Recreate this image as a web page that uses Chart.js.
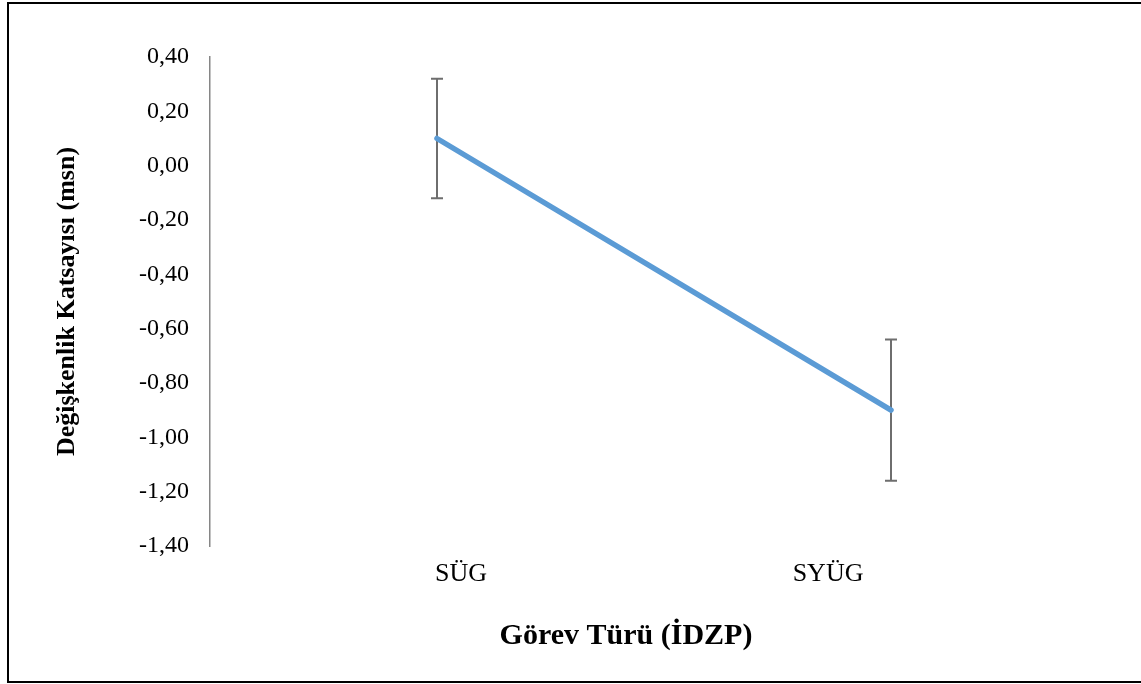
<!DOCTYPE html>
<html>
<head>
<meta charset="utf-8">
<script src="https://cdn.jsdelivr.net/npm/chart.js@4"></script>
<style>
    body { margin: 0; background: #fff; overflow: hidden; }
    #wrap { position: absolute; left: 0; top: 0; width: 1141px; height: 684px; }
    #frame { position: absolute; left: 7px; top: 2px; width: 1160px; height: 677px; border: 2px solid #000; pointer-events: none; }
</style>
</head>
<body>
<div id="wrap">
    <canvas id="kvChart" width="1141" height="684"></canvas>
</div>
<div id="frame"></div>
<script>
const categories = ['SÜG', 'SYÜG'];
const means = [0.10, -0.90];
const errors = [0.22, 0.26];
const yMin = -1.4;
const yMax = 0.4;
const yStep = 0.2;
const xTitle = 'Görev Türü (İDZP)';
const yTitle = 'Değişkenlik Katsayısı (msn)';

const serif = '"Liberation Serif", "Times New Roman", serif';

// error bars drawn behind the line
const errorBars = {
    id: 'errorBars',
    beforeDatasetsDraw(chart) {
        const { ctx, scales: { x, y } } = chart;
        ctx.save();
        ctx.strokeStyle = '#6e6e6e';
        ctx.lineWidth = 2;
        means.forEach((m, i) => {
            const px = x.getPixelForValue(i);
            const top = y.getPixelForValue(m + errors[i]);
            const bot = y.getPixelForValue(m - errors[i]);
            ctx.beginPath();
            ctx.moveTo(px, top);
            ctx.lineTo(px, bot);
            ctx.moveTo(px - 6, top);
            ctx.lineTo(px + 6, top);
            ctx.moveTo(px - 6, bot);
            ctx.lineTo(px + 6, bot);
            ctx.stroke();
        });
        ctx.restore();
    }
};

// x axis title sits a bit left of the plot centre in the original
const xAxisTitle = {
    id: 'xAxisTitle',
    afterDraw(chart) {
        const ctx = chart.ctx;
        ctx.save();
        ctx.font = 'bold 30px ' + serif;
        ctx.fillStyle = '#000';
        ctx.textAlign = 'center';
        ctx.textBaseline = 'middle';
        ctx.fillText(xTitle, 626, 636);
        ctx.restore();
    }
};

new Chart(document.getElementById('kvChart').getContext('2d'), {
    type: 'line',
    data: {
        labels: categories,
        datasets: [{
            data: means,
            borderColor: '#5b9bd5',
            borderWidth: 5.5,
            borderCapStyle: 'round',
            pointRadius: 0,
            tension: 0,
            fill: false
        }]
    },
    options: {
        responsive: false,
        animation: false,
        layout: { padding: { left: 0, right: 23, top: 57, bottom: 0 } },
        plugins: {
            legend: { display: false },
            tooltip: { enabled: false }
        },
        scales: {
            x: {
                offset: true,
                display: false
            },
            // separate axis for the category labels, they are not under the points
            xl: {
                type: 'linear',
                position: 'bottom',
                min: -0.684,
                max: 1.79,
                grid: { display: false, drawTicks: false },
                border: { display: false },
                afterBuildTicks(scale) {
                    scale.ticks = categories.map((c, i) => ({ value: i }));
                },
                ticks: {
                    padding: 13,
                    color: '#000',
                    font: { family: serif, size: 26 },
                    callback: (v) => categories[v]
                },
                afterFit(scale) { scale.height = 138; }
            },
            y: {
                min: yMin,
                max: yMax,
                grid: { display: false, drawTicks: false },
                border: { display: true, color: '#868686', width: 1.5 },
                ticks: {
                    stepSize: yStep,
                    padding: 21,
                    color: '#000',
                    font: { family: serif, size: 24 },
                    callback: (v) => Number(v).toFixed(2).replace('.', ',')
                },
                title: {
                    display: true,
                    text: yTitle,
                    color: '#000',
                    font: { family: serif, size: 26, weight: 'bold' },
                    padding: { top: 52, bottom: 0 }
                },
                afterFit(scale) { scale.width = 210; }
            }
        }
    },
    plugins: [errorBars, xAxisTitle]
});
</script>
</body>
</html>
